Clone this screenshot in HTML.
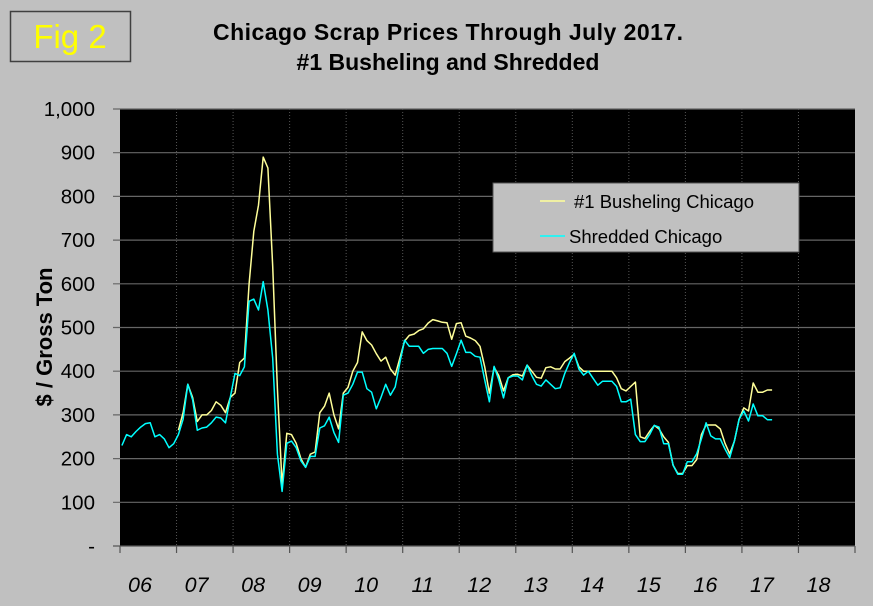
<!DOCTYPE html>
<html><head><meta charset="utf-8"><style>
body{margin:0;background:#c0c0c0;}
svg{display:block;font-family:"Liberation Sans",Arial,sans-serif;}
</style></head><body>
<svg id="chart" width="873" height="606" viewBox="0 0 873 606">
<rect x="0" y="0" width="873" height="606" fill="#c0c0c0"/>
<rect x="10.5" y="11.5" width="120" height="50" fill="none" stroke="#404040" stroke-width="1.5"/>
<text x="70" y="48" font-size="33" fill="#ffff00" text-anchor="middle">Fig 2</text>
<text x="448" y="40" font-size="23" font-weight="bold" text-anchor="middle" textLength="470">Chicago Scrap Prices Through July 2017.</text>
<text x="448" y="70" font-size="23" font-weight="bold" text-anchor="middle">#1 Busheling and Shredded</text>
<rect x="120" y="109" width="735" height="437" fill="#000"/>
<g id="grid"></g>
<g id="series"></g>
<text transform="translate(52,337) rotate(-90)" font-size="22" font-weight="bold" text-anchor="middle">$ / Gross Ton</text>
<rect x="493" y="183" width="306" height="69" fill="#c0c0c0" stroke="#555" stroke-width="1"/>
<line x1="540" y1="201" x2="565" y2="201" stroke="#ffff99" stroke-width="1.5"/>
<text x="574" y="208" font-size="18.5">#1 Busheling Chicago</text>
<line x1="540" y1="236" x2="565" y2="236" stroke="#00ffff" stroke-width="1.5"/>
<text x="569" y="243" font-size="18.5">Shredded Chicago</text>
</svg>
<script>
const yTicks=[0,100,200,300,400,500,600,700,800,900,1000];
const yTickLabels=["-","100","200","300","400","500","600","700","800","900","1,000"];
const yearLabels=["06","07","08","09","10","11","12","13","14","15","16","17","18"];
// Shredded monthly from Jan 2006
const shredded=[230,255,250,262,272,280,282,250,255,245,225,234,
255,290,370,335,265,270,272,282,295,293,282,340,
395,390,410,560,565,540,605,540,430,210,125,235,
240,225,195,180,205,205,270,275,295,260,237,345,
350,370,398,398,360,352,314,340,370,345,364,420,
471,457,457,457,441,450,452,452,452,441,411,440,
471,443,443,434,432,380,330,411,380,339,385,389,
389,380,414,390,370,366,380,370,360,362,395,420,
441,405,391,400,384,368,377,377,377,365,330,330,
336,255,239,239,255,276,272,234,234,185,164,164,
193,193,211,245,282,252,245,245,222,202,240,290,
309,286,325,298,298,289,289];
// Busheling monthly from Jan 2007
const busheling=[265,305,370,340,285,300,300,310,330,322,305,340,
350,420,430,600,720,780,890,865,640,360,140,258,
255,235,200,180,210,215,305,320,350,300,268,350,
363,400,420,490,470,460,440,423,432,405,391,430,
469,482,485,493,497,510,518,515,512,511,473,509,
511,480,476,470,457,410,350,409,390,355,385,392,
393,389,414,400,386,384,408,410,405,405,422,430,
439,410,400,400,400,400,400,400,400,385,360,355,
365,375,250,246,262,276,268,250,237,185,166,166,
184,184,198,255,277,277,277,268,235,211,240,290,
316,309,373,352,352,357,357];
const bushelingStart=12;
const X0=120,X1=855,Y0=546,Y1=109;
function xScale(m){return X0+(X1-X0)*(m+0.4)/(13*12);}
function yScale(v){return Y0-(Y0-Y1)*v/1000;}
const NS="http://www.w3.org/2000/svg";
const grid=document.getElementById('grid');
yTicks.forEach((v,i)=>{
  const y=yScale(v);
  const l=document.createElementNS(NS,'line');
  l.setAttribute('x1',113);l.setAttribute('x2',X1);l.setAttribute('y1',y);l.setAttribute('y2',y);
  l.setAttribute('stroke',i==0?'#555':'#666');l.setAttribute('stroke-width',1.2);
  
  
  grid.appendChild(l);
  const t=document.createElementNS(NS,'text');
  t.setAttribute('x',95);t.setAttribute('y',y+7);t.setAttribute('text-anchor','end');t.setAttribute('font-size','20.5');
  t.textContent=yTickLabels[i];
  
  
  grid.appendChild(t);
});
for(let k=0;k<=yearLabels.length;k++){
  const x=X0+(X1-X0)*k/13;
  if(k>0&&k<13){
    const d=document.createElementNS(NS,'line');
    d.setAttribute('x1',x);d.setAttribute('x2',x);d.setAttribute('y1',Y1);d.setAttribute('y2',Y0);
    d.setAttribute('stroke','#555');d.setAttribute('stroke-dasharray','1,2');
    
    
    grid.appendChild(d);
  }
  const tk=document.createElementNS(NS,'line');
  tk.setAttribute('x1',x);tk.setAttribute('x2',x);tk.setAttribute('y1',Y0);tk.setAttribute('y2',Y0+7);
  tk.setAttribute('stroke','#555');tk.setAttribute('stroke-width',1.2);
  
  
  grid.appendChild(tk);
  if(k<yearLabels.length){
    const t=document.createElementNS(NS,'text');
    t.setAttribute('x',x+20);t.setAttribute('y',592);t.setAttribute('text-anchor','middle');
    t.setAttribute('font-size','21.5');t.setAttribute('font-style','italic');
    t.textContent=yearLabels[k];
    
    
    grid.appendChild(t);
  }
}
const sg=document.getElementById('series');
function line(arr,start,color,name){
  const p=document.createElementNS(NS,'polyline');
  p.setAttribute('points',arr.map((v,i)=>xScale(i+start).toFixed(1)+','+yScale(v).toFixed(1)).join(' '));
  p.setAttribute('fill','none');p.setAttribute('stroke',color);p.setAttribute('stroke-width',1.5);
  p.setAttribute('stroke-linejoin','round');
  
  
  sg.appendChild(p);
}
line(busheling,bushelingStart,'#ffff99','series-busheling');
line(shredded,0,'#00ffff','series-shredded');
</script>
</body></html>
